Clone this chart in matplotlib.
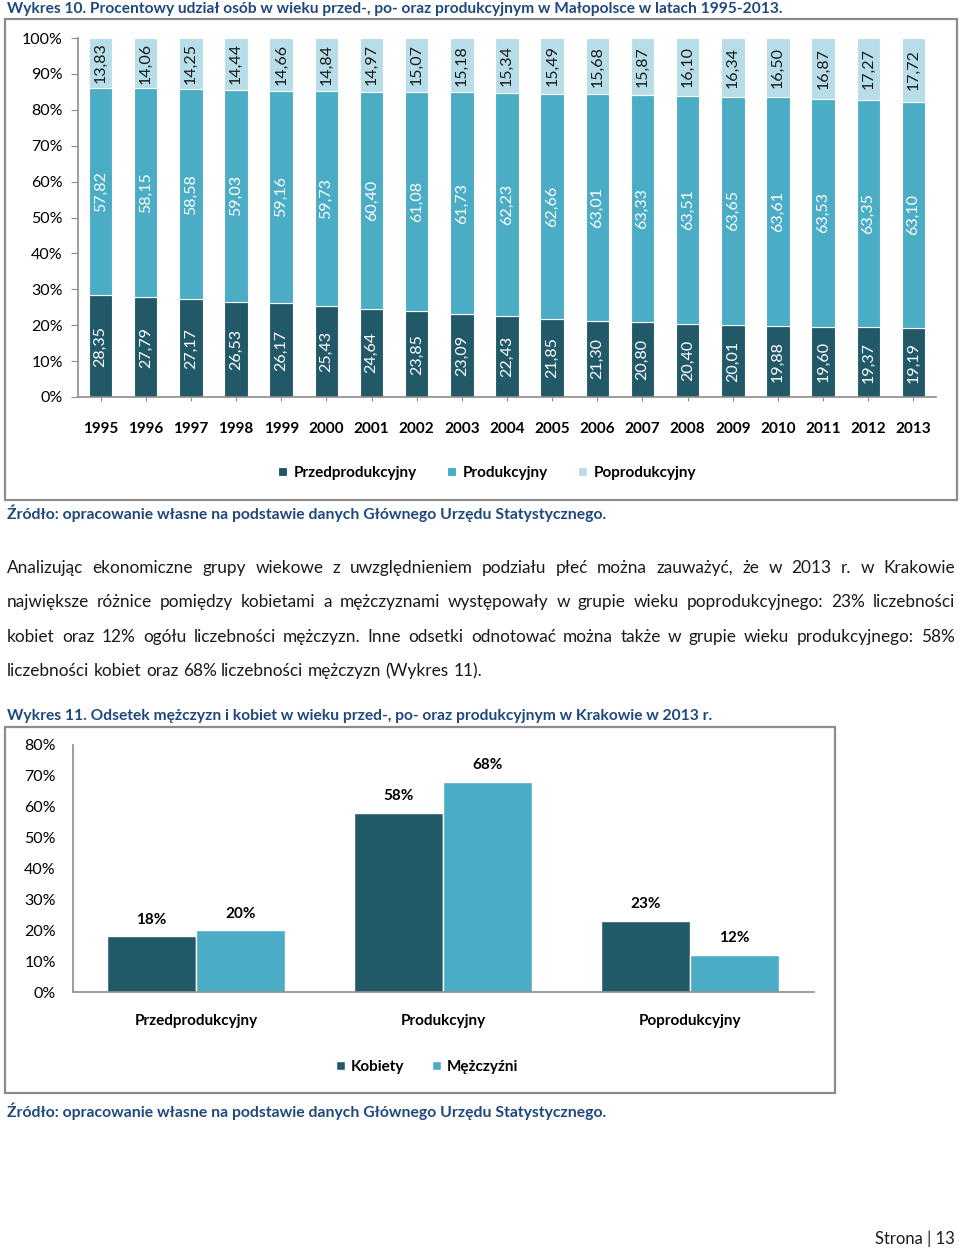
import numpy as np
import matplotlib
matplotlib.use('Agg')
import matplotlib.pyplot as plt
from matplotlib.patches import Rectangle

plt.rcParams['font.family'] = ['Lato', 'DejaVu Sans']

# data for Wykres 10
years = ['1995', '1996', '1997', '1998', '1999', '2000', '2001', '2002', '2003', '2004',
         '2005', '2006', '2007', '2008', '2009', '2010', '2011', '2012', '2013']
przed = [28.35, 27.79, 27.17, 26.53, 26.17, 25.43, 24.64, 23.85, 23.09, 22.43,
         21.85, 21.30, 20.80, 20.40, 20.01, 19.88, 19.60, 19.37, 19.19]
prod = [57.82, 58.15, 58.58, 59.03, 59.16, 59.73, 60.40, 61.08, 61.73, 62.23,
        62.66, 63.01, 63.33, 63.51, 63.65, 63.61, 63.53, 63.35, 63.10]
popr = [13.83, 14.06, 14.25, 14.44, 14.66, 14.84, 14.97, 15.07, 15.18, 15.34,
        15.49, 15.68, 15.87, 16.10, 16.34, 16.50, 16.87, 17.27, 17.72]

# data for Wykres 11
groups = ['Przedprodukcyjny', 'Produkcyjny', 'Poprodukcyjny']
kobiety = [18, 58, 23]
mezczyzni = [20, 68, 12]

c_dark = '#215968'
c_mid = '#4BACC6'
c_light = '#B7DEE8'
c_title = '#1F497D'
c_axis = '#8c8c8c'

W, H = 960, 1250
fig = plt.figure(figsize=(W / 100, H / 100), dpi=100)


def px(x, y):
    return x / W, 1 - y / H


def put(x, y, s, **kw):
    return fig.text(*px(x, y), s, **kw)


def frame(x0, y0, x1, y1):
    fig.patches.append(Rectangle(px(x0, y1), (x1 - x0) / W, (y1 - y0) / H,
                                 transform=fig.transFigure, fill=False,
                                 edgecolor=c_axis, lw=1.6))


# ---- Wykres 10 ----
put(7, 9, 'Wykres 10. Procentowy udział osób w wieku przed-, po- oraz produkcyjnym w Małopolsce w latach 1995-2013.',
    fontsize=11.2, fontweight='bold', color=c_title, va='center')
frame(5, 19, 957, 500)

ax = fig.add_axes([78 / W, (H - 397) / H, 858 / W, 359 / H])
x = np.arange(len(years))
bw = 0.52
b1 = ax.bar(x, przed, bw, color=c_dark, edgecolor='white', lw=0.8, label='Przedprodukcyjny')
b2 = ax.bar(x, prod, bw, bottom=przed, color=c_mid, edgecolor='white', lw=0.8, label='Produkcyjny')
bot3 = np.array(przed) + np.array(prod)
b3 = ax.bar(x, popr, bw, bottom=bot3, color=c_light, edgecolor='white', lw=0.8, label='Poprodukcyjny')

for bars, vals, col in [(b1, przed, 'white'), (b2, prod, 'white'), (b3, popr, '#1a1a1a')]:
    for rect, v in zip(bars, vals):
        ax.text(rect.get_x() + rect.get_width() / 2, rect.get_y() + rect.get_height() / 2,
                f'{v:.2f}'.replace('.', ','), rotation=90, ha='center', va='center',
                color=col, fontsize=11.5)

ax.set_xlim(-0.5, len(years) - 0.5)
ax.set_ylim(0, 100)
ax.set_yticks(np.arange(0, 101, 10))
ax.set_yticklabels([f'{v}%' for v in range(0, 101, 10)], fontsize=11.5)
ax.set_xticks(x)
ax.set_xticklabels(years, fontsize=11, fontweight='bold')
ax.tick_params(axis='y', length=5, color=c_axis, pad=6)
ax.tick_params(axis='x', length=3, color=c_axis, pad=15)
for s in ['top', 'right']:
    ax.spines[s].set_visible(False)
for s in ['left', 'bottom']:
    ax.spines[s].set_color(c_axis)
    ax.spines[s].set_linewidth(1.2)
ax.patch.set_alpha(0)

fig.legend(handles=[b1, b2, b3], loc='center', bbox_to_anchor=px(487, 473), ncol=3,
           frameon=False, handlelength=0.6, handleheight=0.6, handletextpad=0.4,
           columnspacing=2.0, prop={'size': 11, 'weight': 'bold'})

put(7, 513, 'Źródło: opracowanie własne na podstawie danych Głównego Urzędu Statystycznego.',
    fontsize=11.3, fontweight='bold', color=c_title, va='center')

# ---- paragraph ----
para = [
    'Analizując ekonomiczne grupy wiekowe z uwzględnieniem podziału płeć można zauważyć, że w 2013 r. w Krakowie',
    'największe różnice pomiędzy kobietami a mężczyznami występowały w grupie wieku poprodukcyjnego: 23% liczebności',
    'kobiet oraz 12% ogółu liczebności mężczyzn. Inne odsetki odnotować można także w grupie wieku produkcyjnego: 58%',
    'liczebności kobiet oraz 68% liczebności mężczyzn (Wykres 11).',
]
r = fig.canvas.get_renderer()
psize = 12.4
for i, line in enumerate(para):
    y = 568 + i * 34.3
    words = line.split()
    objs = [put(0, y, w, fontsize=psize, color='#1a1a1a', va='center') for w in words]
    widths = [o.get_window_extent(r).width for o in objs]
    if i < len(para) - 1:
        gap = (955 - 7 - sum(widths)) / (len(words) - 1)
    else:
        gap = psize * 0.26 * 100 / 72
    xc = 7
    for o, w in zip(objs, widths):
        o.set_position(px(xc, y))
        xc += w + gap

# ---- Wykres 11 ----
put(7, 716, 'Wykres 11. Odsetek mężczyzn i kobiet w wieku przed-, po- oraz produkcyjnym w Krakowie w 2013 r.',
    fontsize=11.25, fontweight='bold', color=c_title, va='center')
frame(5, 727, 835, 1093)

ax2 = fig.add_axes([72.5 / W, (H - 992) / H, 741 / W, 247 / H])
g = np.arange(len(groups))
w2 = 0.36
k = ax2.bar(g - w2 / 2, kobiety, w2, color=c_dark, edgecolor='white', lw=1, label='Kobiety')
m = ax2.bar(g + w2 / 2, mezczyzni, w2, color=c_mid, edgecolor='white', lw=1, label='Mężczyźni')
for bars in [k, m]:
    for rect in bars:
        ax2.annotate(f'{rect.get_height():.0f}%', (rect.get_x() + rect.get_width() / 2, rect.get_height()),
                     xytext=(0, 7), textcoords='offset points', ha='center', va='bottom',
                     fontsize=11, fontweight='bold')
ax2.set_xlim(-0.5, len(groups) - 0.5)
ax2.set_ylim(0, 80)
ax2.set_yticks(np.arange(0, 81, 10))
ax2.set_yticklabels([f'{v}%' for v in range(0, 81, 10)], fontsize=11.5)
ax2.set_xticks(g)
ax2.set_xticklabels(groups, fontsize=11, fontweight='bold')
ax2.tick_params(axis='y', length=0, pad=12)
ax2.tick_params(axis='x', length=0, pad=16)
for s in ['top', 'right']:
    ax2.spines[s].set_visible(False)
for s in ['left', 'bottom']:
    ax2.spines[s].set_color(c_axis)
    ax2.spines[s].set_linewidth(1.2)
ax2.patch.set_alpha(0)

fig.legend(handles=[k, m], loc='center', bbox_to_anchor=px(427, 1067), ncol=2,
           frameon=False, handlelength=0.6, handleheight=0.6, handletextpad=0.4,
           columnspacing=1.8, prop={'size': 11, 'weight': 'bold'})

put(7, 1111, 'Źródło: opracowanie własne na podstawie danych Głównego Urzędu Statystycznego.',
    fontsize=11.3, fontweight='bold', color=c_title, va='center')

put(955, 1239, 'Strona | 13', fontsize=12, color='#1a1a1a', va='center', ha='right')

fig.savefig('out.png', dpi=100)
